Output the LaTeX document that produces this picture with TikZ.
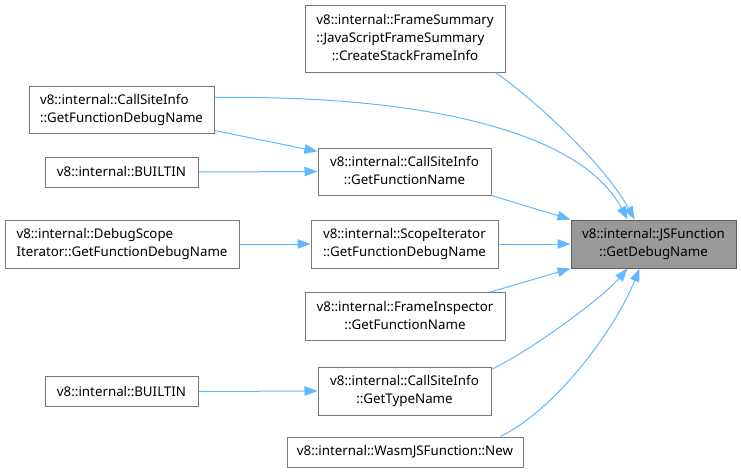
\documentclass[tikz,border=0pt]{standalone}
\usepackage{fontspec}
\setmainfont{Noto Sans}
\usetikzlibrary{arrows.meta,calc}
\definecolor{edgeblue}{HTML}{63B8FF}
\definecolor{boxline}{HTML}{777777}
\definecolor{boxgray}{HTML}{999999}
\newcommand\twolines[2]{\begin{tabular}{@{}l@{}}#1\\\multicolumn{1}{@{}c@{}}{#2}\end{tabular}}
\newcommand\threelines[3]{\begin{tabular}{@{}l@{}}#1\\#2\\\multicolumn{1}{@{}c@{}}{#3}\end{tabular}}
\begin{document}
\begin{tikzpicture}[x=1pt,y=-1pt,
  box/.style={draw=boxline, fill=white, line width=1pt, inner sep=0pt, font=\fontsize{13.33}{18}\selectfont},
  edge/.style={draw=edgeblue, line width=1pt, -{Triangle[length=13pt,width=9.5pt]}}]
\useasboundingbox[fill=white] (0,0) rectangle (741,474);
\node[box, minimum width=200, minimum height=67] (fs) at (405,38.5)
  {\threelines{v8::internal::FrameSummary}{::JavaScriptFrameSummary}{::CreateStackFrameInfo}};
\node[box, minimum width=185, minimum height=47] (cgfdn) at (121.5,109.5)
  {\twolines{v8::internal::CallSiteInfo}{::GetFunctionDebugName}};
\node[box, minimum width=153, minimum height=30] (b1) at (121.5,172) {v8::internal::BUILTIN};
\node[box, minimum width=173, minimum height=47] (cgfn) at (404.5,171.5)
  {\twolines{v8::internal::CallSiteInfo}{::GetFunctionName}};
\node[box, minimum width=234, minimum height=48] (dsi) at (122,244)
  {\twolines{v8::internal::DebugScope}{Iterator::GetFunctionDebugName}};
\node[box, minimum width=187, minimum height=48] (sigfdn) at (404.5,244)
  {\twolines{v8::internal::ScopeIterator}{::GetFunctionDebugName}};
\node[box, fill=boxgray, draw=boxline!80!black, minimum width=165, minimum height=48] (jsf) at (653.5,244)
  {\twolines{v8::internal::JSFunction}{::GetDebugName}};
\node[box, minimum width=200, minimum height=48] (fi) at (405,316.5)
  {\twolines{v8::internal::FrameInspector}{::GetFunctionName}};
\node[box, minimum width=153, minimum height=30] (b2) at (121.5,391.5) {v8::internal::BUILTIN};
\node[box, minimum width=173, minimum height=48] (cgtn) at (404.5,391)
  {\twolines{v8::internal::CallSiteInfo}{::GetTypeName}};
\node[box, minimum width=236, minimum height=30] (wasm) at (405,452)
  {v8::internal::WasmJSFunction::New};

\draw[edge] ($(fs.south east)+(-10,0)$) .. controls (535,100) and (605,165) .. ($(jsf.north west)+(64,0)$);
\draw[edge] ($(cgfdn.north east)+(0,12)$) .. controls (420,95) and (580,130) .. ($(jsf.north west)+(57,0)$);
\draw[edge] ($(cgfdn.south east)+(0,-3)$) -- ($(cgfn.north west)+(0,4)$);
\draw[edge] (b1.east) -- (cgfn.west);
\draw[edge] (cgfn.south east) -- (jsf.north west);
\draw[edge] (dsi.east) -- (sigfdn.west);
\draw[edge] (sigfdn.east) -- (jsf.west);
\draw[edge] ($(fi.north east)+(-15,0)$) -- (jsf.south west);
\draw[edge] (b2.east) -- (cgtn.west);
\draw[edge] ($(cgtn.north east)+(0,3)$) .. controls (540,345) and (605,295) .. ($(jsf.south west)+(57,0)$);
\draw[edge] ($(wasm.north east)+(-23,0)$) .. controls (555,410) and (615,330) .. ($(jsf.south west)+(69,0)$);
\end{tikzpicture}
\end{document}
